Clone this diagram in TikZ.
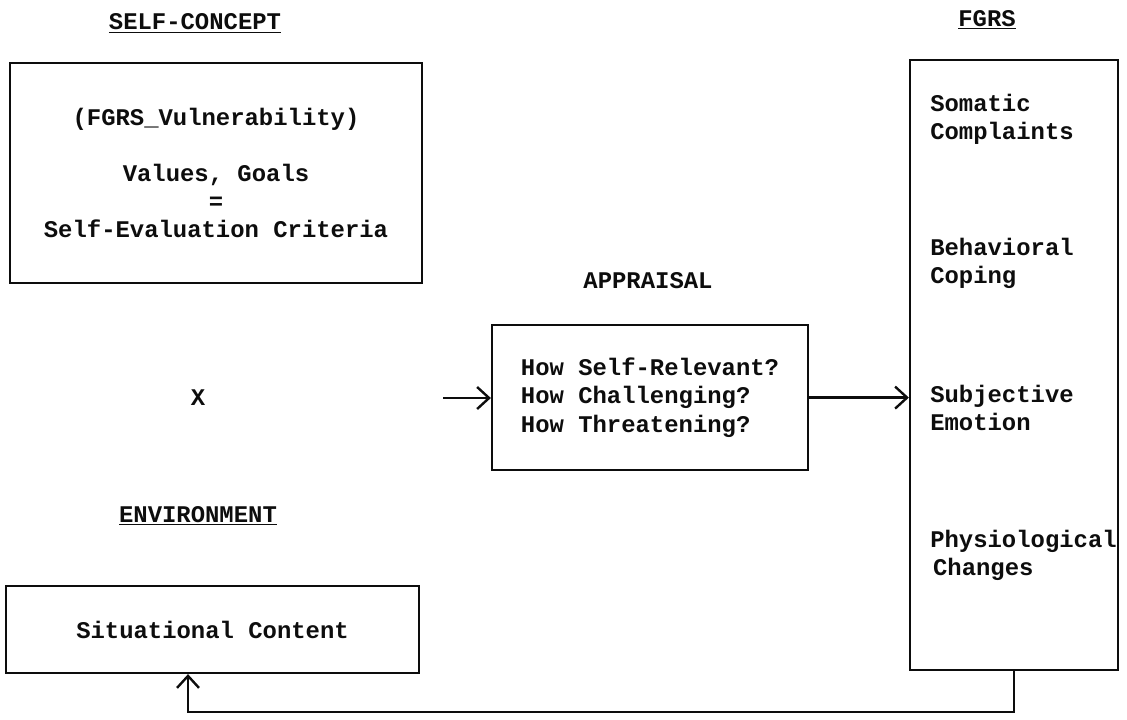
\documentclass[tikz,border=0pt]{standalone}
\usepackage{fontspec}
\newfontfamily\typewheel{Liberation Mono}
\usetikzlibrary{arrows.meta}
\definecolor{ribbon}{rgb}{0.05, 0.05, 0.05}
\tikzset{
  typed/.style={font=\typewheel\bfseries\fontsize{17}{20}\selectfont, text=ribbon, inner sep=0pt},
  frame/.style={typed, draw=ribbon, line width=1.6pt, rectangle},
  item/.style={typed, anchor=west, align=left},
  feed/.style={ribbon, line width=1.7pt, -{Straight Barb[length=3mm, width=5.5mm]}}
}

\begin{document}
\begin{tikzpicture}
  \useasboundingbox (0,0) rectangle (28.175,-17.975);
  \coordinate (xin) at (11.075,-9.95);
  \coordinate (loop) at (4.7,-17.8);

  % left column
  \node [typed, anchor=base] (selft) at (4.875,-0.74) {\underline{SELF-CONCEPT}};
  \node [frame, minimum width=10.3cm, minimum height=5.5cm, align=center] (selfc) at (5.4,-4.325)
    {(FGRS\_Vulnerability)\\[20pt]Values, Goals\\=\\Self-Evaluation Criteria};
  \node [typed, anchor=base] (cross) at (4.95,-10.125) {X};
  \node [typed, anchor=base] (envt) at (4.95,-13.05) {\underline{ENVIRONMENT}};
  \node [frame, minimum width=10.325cm, minimum height=2.175cm] (situ) at (5.3125,-15.7375)
    {Situational Content};

  % middle
  \node [typed, anchor=base] (apprt) at (16.2,-7.2) {APPRAISAL};
  \node [frame, minimum width=7.9cm, minimum height=3.625cm, align=left] (appr) at (16.25,-9.94)
    {How Self-Relevant?\\How Challenging?\\How Threatening?};

  % right column
  \node [typed, anchor=base] (fgrst) at (24.675,-0.66) {\underline{FGRS}};
  \node [frame, minimum width=5.2cm, minimum height=15.25cm] (fgrs) at (25.35,-9.125) {};
  \node [item] (soma) at (23.25,-2.975) {Somatic\\Complaints};
  \node [item] (beha) at (23.25,-6.575) {Behavioral\\Coping};
  \node [item] (subj) at (23.25,-10.2) {Subjective\\Emotion};
  \node [item] (phys) at (23.25,-13.875) {Physiological\\\hspace{2pt}Changes};

  \draw [feed] (xin) -- (xin -| appr.west);
  \draw [feed] (appr.east) -- (appr.east -| fgrs.west);
  \draw [feed] (fgrs.south) |- (loop) -- (loop |- situ.south);
\end{tikzpicture}
\end{document}
